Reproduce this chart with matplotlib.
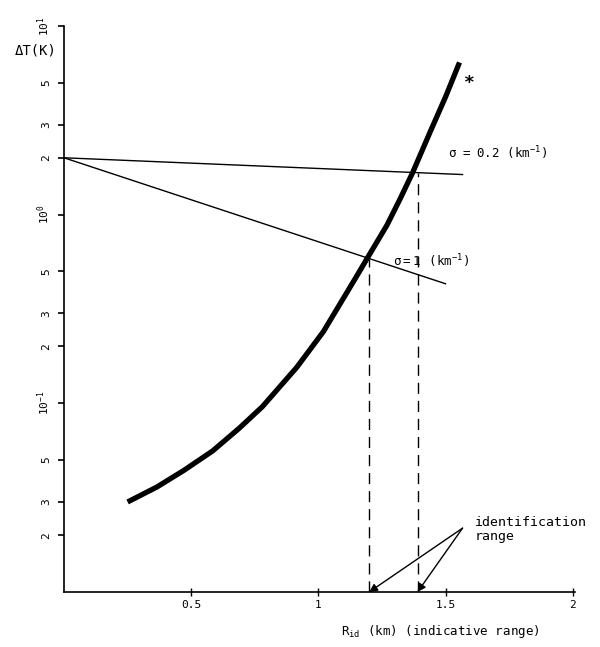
import matplotlib
matplotlib.use("Agg")
import matplotlib.pyplot as plt

plt.rcParams['font.family'] = ['DejaVu Sans Mono']

# thick curve (*)
curve_r = [0.25, 0.365, 0.47, 0.585, 0.69, 0.78, 0.915, 1.02, 1.15, 1.19,
           1.27, 1.32, 1.37, 1.44, 1.5, 1.555]
curve_dt = [0.030, 0.036, 0.044, 0.056, 0.074, 0.096, 0.155, 0.24, 0.47, 0.58,
            0.88, 1.2, 1.66, 2.75, 4.2, 6.4]

# straight attenuation lines
s02_r = [0.0, 1.567]
s02_dt = [2.0, 1.63]
s1_r = [0.0, 1.5]
s1_dt = [2.0, 0.43]

# identification range
id_r = [1.2, 1.39]
id_top = [0.58, 1.66]

y_ticks = [0.02, 0.03, 0.05, 0.1, 0.2, 0.3, 0.5, 1, 2, 3, 5, 10]
y_labels = ['2', '3', '5', r'$\mathregular{10^{-1}}$', '2', '3', '5',
            r'$\mathregular{10^{0}}$', '2', '3', '5', r'$\mathregular{10^{1}}$']
x_ticks = [0.5, 1, 1.5, 2]
x_labels = ['0.5', '1', '1.5', '2']

fig = plt.figure(figsize=(6, 6.47), dpi=100)
ax = fig.add_axes([0.1067, 0.085, 0.852, 0.875])

ax.plot(curve_r, curve_dt, color='black', lw=3.8, solid_capstyle='butt',
        solid_joinstyle='round')
ax.plot(s02_r, s02_dt, color='black', lw=1.0)
ax.plot(s1_r, s1_dt, color='black', lw=1.0)
for r, top in zip(id_r, id_top):
    ax.plot([r, r], [0.01, top], color='black', lw=1.0, dashes=(8, 5))

ax.set_yscale('log')
ax.set_xlim(0, 2.01)
ax.set_ylim(0.01, 10)
ax.set_yticks(y_ticks)
ax.set_yticklabels(y_labels, rotation=90, va='center', fontsize=8)
ax.yaxis.set_minor_locator(matplotlib.ticker.NullLocator())
ax.set_xticks(x_ticks)
ax.set_xticklabels(x_labels, fontsize=8)
ax.tick_params(axis='y', direction='out', length=4, width=1.2, pad=5)
ax.tick_params(axis='x', direction='inout', length=6, width=1.0, pad=3)
ax.spines['top'].set_visible(False)
ax.spines['right'].set_visible(False)
ax.spines['left'].set_linewidth(1.2)
ax.spines['bottom'].set_linewidth(1.2)

ax.text(1.509, 2.11, r'$\mathregular{\sigma\ =\ 0.2\ \ (km^{-1})}$', fontsize=9,
        va='center', ha='left')
ax.text(1.293, 0.565, r'$\mathregular{\sigma=1\ \ (km^{-1})}$', fontsize=9,
        va='center', ha='left')
ax.text(1.595, 4.97, '*', fontsize=13, fontweight='bold', va='center', ha='center')

ax.text(1.615, 0.0252, 'identification\nrange', fontsize=9.5, va='top',
        ha='left', linespacing=1.1)
for r in id_r:
    ax.annotate('', xy=(r, 0.01), xytext=(1.567, 0.0218),
                arrowprops=dict(arrowstyle='-|>', color='black', lw=1.0,
                                mutation_scale=12, shrinkA=0, shrinkB=0),
                annotation_clip=False)

fig.text(15 / 600, 1 - 50 / 647, 'ΔT(K)', fontsize=10, ha='left', va='center')
fig.text(440 / 600, 1 - 632 / 647, r'$\mathregular{R_{id}}$ (km) (indicative range)',
         fontsize=9, ha='center', va='center')

fig.savefig('out.png', dpi=100)
